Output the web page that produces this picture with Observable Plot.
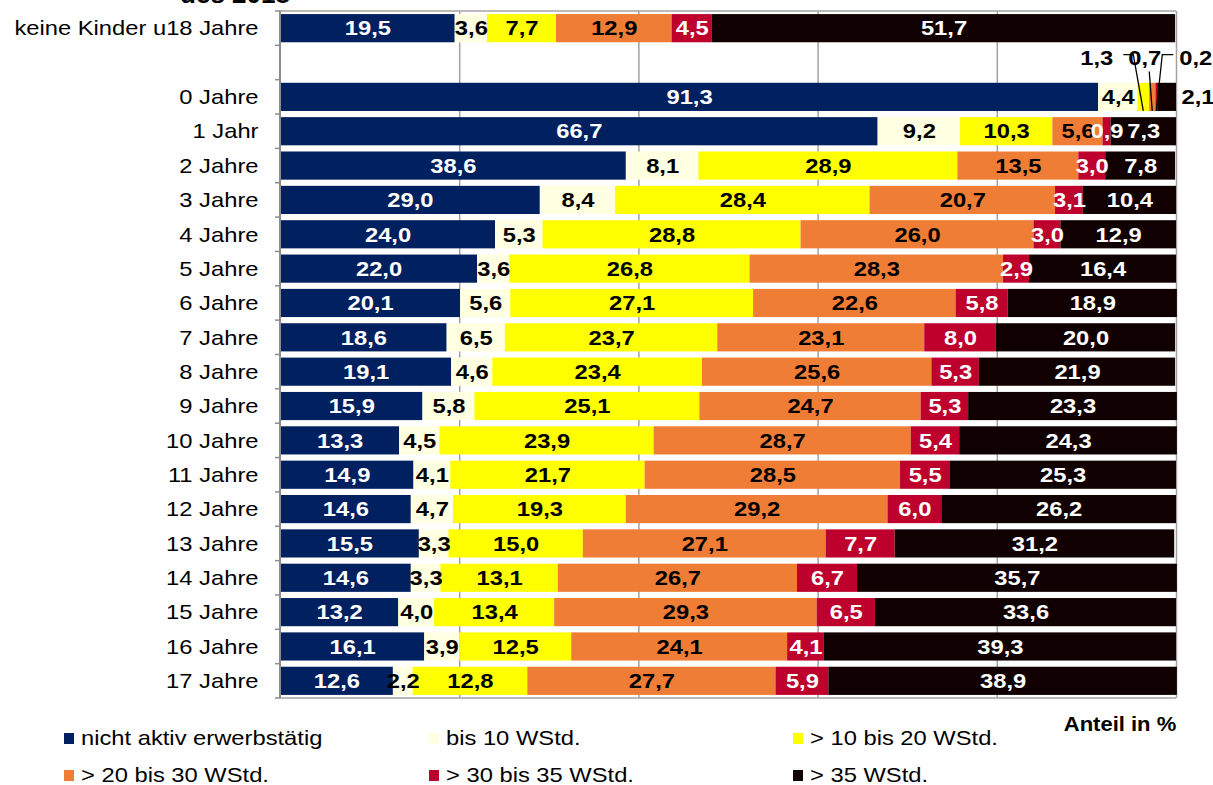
<!DOCTYPE html>
<html>
<head>
<meta charset="utf-8">
<script src="https://cdn.jsdelivr.net/npm/d3@7"></script>
<script src="https://cdn.jsdelivr.net/npm/@observablehq/plot@0.6"></script>
<style>
  body { margin: 0; background: #fff; }
  #wrap { position: relative; width: 1213px; height: 785px; overflow: hidden; font-family: "Liberation Sans", Arial, sans-serif; color: #000; }
  #title { position: absolute; left: 135px; width: 200px; top: -19px; text-align: center; font-weight: bold; font-size: 26px; line-height: 26px; }
  #chart { position: absolute; left: 0; top: 0; }
  .leg { position: absolute; display: flex; align-items: center; font-size: 21px; white-space: nowrap; }
  .leg .sw { width: 10px; height: 11px; margin-right: 7px; }
  .leg .tx { display: inline-block; transform: scaleX(1.13); transform-origin: left center; }
  #unit { position: absolute; right: 37px; top: 711px; font-weight: bold; font-size: 20px; line-height: 26px; transform: scaleX(1.1); transform-origin: right center; }
</style>
</head>
<body>
<div id="wrap">
  <div id="title">des 2018</div>
  <div id="chart"></div>
  <div id="legend"></div>
  <div id="unit">Anteil in %</div>
</div>
<script>
// ---- data ----
const groups = ["keine Kinder u18 Jahre", "0 Jahre", "1 Jahr", "2 Jahre", "3 Jahre", "4 Jahre", "5 Jahre", "6 Jahre", "7 Jahre", "8 Jahre", "9 Jahre", "10 Jahre", "11 Jahre", "12 Jahre", "13 Jahre", "14 Jahre", "15 Jahre", "16 Jahre", "17 Jahre"];
const series = ["nicht aktiv erwerbstätig", "bis 10 WStd.", "> 10 bis 20 WStd.", "> 20 bis 30 WStd.", "> 30 bis 35 WStd.", "> 35 WStd."];
const colors = ["#00205F", "#FFFFE1", "#FFFF00", "#F07D35", "#BE002D", "#110002"];
const darkSeries = ["nicht aktiv erwerbstätig", "> 30 bis 35 WStd.", "> 35 WStd."];

const nichtAktiv = [19.5, 91.3, 66.7, 38.6, 29.0, 24.0, 22.0, 20.1, 18.6, 19.1, 15.9, 13.3, 14.9, 14.6, 15.5, 14.6, 13.2, 16.1, 12.6];
const bis10      = [3.6, 4.4, 9.2, 8.1, 8.4, 5.3, 3.6, 5.6, 6.5, 4.6, 5.8, 4.5, 4.1, 4.7, 3.3, 3.3, 4.0, 3.9, 2.2];
const bis20      = [7.7, 1.3, 10.3, 28.9, 28.4, 28.8, 26.8, 27.1, 23.7, 23.4, 25.1, 23.9, 21.7, 19.3, 15.0, 13.1, 13.4, 12.5, 12.8];
const bis30      = [12.9, 0.7, 5.6, 13.5, 20.7, 26.0, 28.3, 22.6, 23.1, 25.6, 24.7, 28.7, 28.5, 29.2, 27.1, 26.7, 29.3, 24.1, 27.7];
const bis35      = [4.5, 0.2, 0.9, 3.0, 3.1, 3.0, 2.9, 5.8, 8.0, 5.3, 5.3, 5.4, 5.5, 6.0, 7.7, 6.7, 6.5, 4.1, 5.9];
const ueber35    = [51.7, 2.1, 7.3, 7.8, 10.4, 12.9, 16.4, 18.9, 20.0, 21.9, 23.3, 24.3, 25.3, 26.2, 31.2, 35.7, 33.6, 39.3, 38.9];

// annotated small segments of "0 Jahre" (label offsets in px from segment middle)
const outsideRow = "0 Jahre";
const outsideLabels = [
  {series: "> 10 bis 20 WStd.", dx: -47, kind: "left"},
  {series: "> 20 bis 30 WStd.", dx: -8, kind: "below"},
  {series: "> 30 bis 35 WStd.", dx: 39, kind: "right"}
];
const outsideEnd = "> 35 WStd.";
const blank = " ";

// ---- build ----
const valueArrays = [nichtAktiv, bis10, bis20, bis30, bis35, ueber35];
const table = groups.flatMap((g, i) => series.map((s, j) => ({group: g, series: s, value: valueArrays[j][i]})));
const fmt = v => v.toFixed(1).replace(".", ",");
const isOutside = d => d.group === outsideRow && (outsideLabels.some(o => o.series === d.series) || d.series === outsideEnd);
const yDomain = [groups[0], blank, ...groups.slice(1)];

const rowIdx = groups.indexOf(outsideRow);
const cum = [0];
valueArrays.forEach((arr, j) => cum.push(cum[j] + arr[rowIdx]));
const outsideData = outsideLabels.map(o => {
  const j = series.indexOf(o.series);
  return {...o, mid: (cum[j] + cum[j + 1]) / 2, value: valueArrays[j][rowIdx]};
});
const endData = [{total: cum[cum.length - 1], value: valueArrays[series.indexOf(outsideEnd)][rowIdx]}];

function decorations(index, scales) {
  const x = scales.x, y = scales.y;
  const bw = y.bandwidth(), step = y.step();
  const [r0, r1] = y.range();
  const g = d3.create("svg:g");
  const x0 = x(0), x100 = x(100);
  // frame top & bottom
  for (const yy of [r0, r1]) {
    g.append("line").attr("x1", x0).attr("x2", x100).attr("y1", yy).attr("y2", yy)
      .attr("stroke", "#a3a3a3").attr("stroke-width", 1.5);
  }
  // tick marks at category boundaries
  for (let i = 0; i <= yDomain.length; i++) {
    const yy = r0 + i * step;
    g.append("line").attr("x1", x0 - 5).attr("x2", x0).attr("y1", yy).attr("y2", yy)
      .attr("stroke", "#8c8c8c").attr("stroke-width", 1.5);
  }
  g.append("line").attr("x1", x0).attr("x2", x0).attr("y1", r0).attr("y2", r1)
    .attr("stroke", "#8c8c8c").attr("stroke-width", 2);
  // leader lines
  const ly = y(blank) + bw / 2 - 5;
  const barBottom = y(outsideRow) + bw;
  for (const d of outsideData) {
    const sm = x(d.mid);
    const lx = sm + d.dx;
    let pts;
    if (d.kind === "left") pts = [[lx + 27, ly - 3], [lx + 37, ly - 3], [sm, barBottom]];
    else if (d.kind === "below") pts = [[lx + 5, ly + 14], [sm, barBottom]];
    else pts = [[lx - 22, ly - 3], [lx - 33, ly - 3], [sm, barBottom]];
    g.append("path").attr("d", d3.line()(pts)).attr("fill", "none").attr("stroke", "#000").attr("stroke-width", 1.3);
  }
  return g.node();
}

const labelText = dark => d => (isOutside(d) ? "" : (darkSeries.includes(d.series) === dark ? fmt(d.value) : ""));

const chart = Plot.plot({
  width: 1213,
  height: 700,
  marginLeft: 280,
  marginRight: 37,
  marginTop: 11,
  marginBottom: 2,
  style: {fontFamily: "'Liberation Sans', Arial, sans-serif", background: "transparent"},
  x: {domain: [0, 100], axis: null},
  y: {domain: yDomain, axis: null, paddingInner: 0.18, paddingOuter: 0.09, round: false},
  color: {domain: series, range: colors},
  marks: [
    Plot.ruleX([20, 40, 60, 80, 100], {stroke: "#a3a3a3", strokeWidth: 1.5}),
    Plot.barX(table, {x: "value", y: "group", fill: "series", order: series}),
    Plot.text(table, Plot.stackX({x: "value", y: "group", z: "series", order: series, text: labelText(false), fill: "#000", fontWeight: "bold", fontSize: 21})),
    Plot.text(table, Plot.stackX({x: "value", y: "group", z: "series", order: series, text: labelText(true), fill: "#fff", fontWeight: "bold", fontSize: 21})),
    ...outsideData.map(d => Plot.text([d], {x: "mid", y: () => blank, dx: d.dx, dy: -5, text: e => fmt(e.value), fill: "#000", fontWeight: "bold", fontSize: 21})),
    Plot.text(endData, {x: "total", y: () => outsideRow, text: d => fmt(d.value), dx: 5, textAnchor: "start", fill: "#000", fontWeight: "bold", fontSize: 21}),
    Plot.text(groups, {x: () => 0, y: d => d, text: d => d, textAnchor: "end", dx: -22, fill: "#000", fontSize: 21}),
    decorations
  ]
});
document.getElementById("chart").appendChild(chart);

// horizontal stretch of all texts to match reference proportions
chart.querySelectorAll("text").forEach(t => {
  const w = t.getComputedTextLength();
  if (w > 0) {
    t.setAttribute("textLength", (w * 1.13).toFixed(1));
    t.setAttribute("lengthAdjust", "spacingAndGlyphs");
  }
});

// ---- legend ----
const legendPos = [[64, 738], [429, 738], [793, 738], [64, 775], [429, 775], [793, 775]];
const legend = document.getElementById("legend");
series.forEach((s, i) => {
  const el = document.createElement("div");
  el.className = "leg";
  el.style.left = legendPos[i][0] + "px";
  el.style.top = (legendPos[i][1] - 13) + "px";
  el.style.height = "26px";
  el.innerHTML = `<span class="sw" style="background:${colors[i]}"></span><span class="tx"></span>`;
  el.querySelector(".tx").textContent = s;
  legend.appendChild(el);
});
</script>
</body>
</html>
